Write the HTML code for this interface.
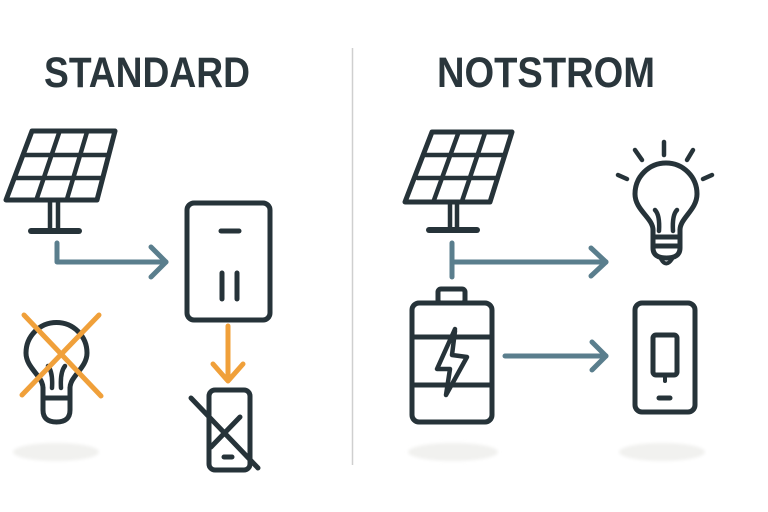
<!DOCTYPE html>
<html>
<head>
<meta charset="utf-8">
<style>
  html,body{margin:0;padding:0;background:#ffffff;}
  svg{display:block;}
</style>
</head>
<body>
<svg width="768" height="512" viewBox="0 0 768 512" xmlns="http://www.w3.org/2000/svg">
  <defs>
    <filter id="soft" x="-20%" y="-50%" width="140%" height="200%">
      <feGaussianBlur stdDeviation="1.5"/>
    </filter>
  </defs>
  <rect width="768" height="512" fill="#ffffff"/>

  <!-- Titles -->
  <text x="44" y="87" font-family="'Liberation Sans', sans-serif" font-weight="bold" font-size="43" fill="#2a363c" textLength="206" lengthAdjust="spacingAndGlyphs">STANDARD</text>
  <text x="437" y="87" font-family="'Liberation Sans', sans-serif" font-weight="bold" font-size="43" fill="#2a363c" textLength="218" lengthAdjust="spacingAndGlyphs">NOTSTROM</text>

  <!-- Divider -->
  <line x1="352.5" y1="48" x2="352.5" y2="465" stroke="#cfcfcf" stroke-width="1.5"/>

  <!-- Shadows -->
  <g filter="url(#soft)" fill="#f1f1ef">
    <ellipse cx="56" cy="452" rx="43" ry="9"/>
    <ellipse cx="453" cy="452" rx="45" ry="9"/>
    <ellipse cx="662" cy="452" rx="43" ry="9"/>
  </g>

  <g fill="none" stroke="#263339" stroke-width="5" stroke-linecap="round" stroke-linejoin="round">
    <!-- Left solar panel -->
    <path d="M32,131 L115,131 L97,200 L6,200 Z"/>
    <line x1="23" y1="155" x2="108.7" y2="155" stroke-width="4.5"/>
    <line x1="14.3" y1="178" x2="102.7" y2="178" stroke-width="4.5"/>
    <line x1="59.7" y1="131" x2="36.3" y2="200" stroke-width="4.5"/>
    <line x1="87.3" y1="131" x2="66.7" y2="200" stroke-width="4.5"/>
    <line x1="50" y1="200" x2="50" y2="231" stroke-width="4.5"/>
    <line x1="58" y1="200" x2="58" y2="231" stroke-width="4.5"/>
    <line x1="31" y1="231" x2="79" y2="231" stroke-width="6"/>

    <!-- Inverter box -->
    <rect x="187" y="203" width="83" height="117" rx="7"/>
    <line x1="221" y1="231" x2="239" y2="231"/>
    <line x1="222" y1="273" x2="222" y2="299"/>
    <line x1="237" y1="273" x2="237" y2="299"/>

    <!-- Left bulb -->
    <path d="M43,388 C43,376 26,368 26,353 A30.5,30.5 0 1 1 87,353 C87,368 70,376 70,388"/>
    <path d="M43,388 L43,410 Q43,422 56.5,422 Q70,422 70,410 L70,388"/>
    <line x1="43" y1="398" x2="70" y2="398"/>
    <path d="M48,366 Q53,372 52,388" stroke-width="4.5"/>
    <path d="M65,366 Q60,372 61,388" stroke-width="4.5"/>

    <!-- Left phone crossed -->
    <rect x="209" y="390" width="41" height="80" rx="6"/>
    <line x1="224" y1="457" x2="232" y2="457"/>
    <line x1="191" y1="398" x2="258" y2="468"/>
    <line x1="240" y1="417" x2="211" y2="447"/>

    <!-- Right solar panel -->
    <path d="M432,132 L512,132 L490,202 L405,202 Z"/>
    <line x1="424.8" y1="155" x2="504.8" y2="155" stroke-width="4.5"/>
    <line x1="417.7" y1="178" x2="497.5" y2="178" stroke-width="4.5"/>
    <line x1="458.7" y1="132" x2="433.3" y2="202" stroke-width="4.5"/>
    <line x1="485.3" y1="132" x2="461.7" y2="202" stroke-width="4.5"/>
    <line x1="450" y1="202" x2="450" y2="230" stroke-width="4.5"/>
    <line x1="457" y1="202" x2="457" y2="230" stroke-width="4.5"/>
    <line x1="429" y1="230" x2="477" y2="230" stroke-width="6"/>

    <!-- Right bulb -->
    <path d="M653,230 C653,218 635,210 635,194 A31,31 0 1 1 697,194 C697,210 680,218 680,230"/>
    <path d="M653,230 L653,248 Q653,258 666.5,258 Q680,258 680,248 L680,230"/>
    <line x1="653" y1="237" x2="680" y2="237"/>
    <line x1="653" y1="246" x2="680" y2="246"/>
    <path d="M661,259 Q666,268 672,259" stroke-width="4"/>
    <path d="M655,210 Q660,215 659,231" stroke-width="4.5"/>
    <path d="M677,210 Q672,215 673,231" stroke-width="4.5"/>
    <line x1="664" y1="142" x2="664" y2="155" stroke-width="4.5"/>
    <line x1="635" y1="150" x2="642" y2="160" stroke-width="4.5"/>
    <line x1="693" y1="150" x2="687" y2="160" stroke-width="4.5"/>
    <line x1="618" y1="175" x2="627" y2="179" stroke-width="4.5"/>
    <line x1="712" y1="175" x2="703" y2="179" stroke-width="4.5"/>

    <!-- Battery -->
    <rect x="438" y="289" width="27" height="14" rx="3"/>
    <rect x="412" y="303" width="80" height="119" rx="7"/>
    <line x1="412" y1="337" x2="492" y2="337"/>
    <line x1="412" y1="385" x2="492" y2="385"/>
    <path d="M455,329 L437,369 L450,369 L446,395 L467,357 L452,355 L455,331" stroke-width="4.5"/>

    <!-- Right phone -->
    <rect x="635" y="303" width="60" height="109" rx="7"/>
    <rect x="653" y="335" width="24" height="40" rx="3"/>
    <line x1="665" y1="376" x2="665" y2="381" stroke-width="4"/>
    <line x1="659" y1="398" x2="670" y2="398"/>
  </g>

  <!-- Blue arrows -->
  <g fill="none" stroke="#5a7e8d" stroke-width="5" stroke-linecap="round" stroke-linejoin="round">
    <path d="M57,243 L57,262 L166,262"/>
    <path d="M151,247 L166,262 L151,277"/>

    <line x1="452" y1="243" x2="452" y2="277"/>
    <line x1="452" y1="262" x2="606" y2="262"/>
    <path d="M591,248 L606,262 L591,276"/>

    <line x1="505" y1="356" x2="606" y2="356"/>
    <path d="M592,342 L606,356 L592,370"/>
  </g>

  <!-- Orange elements -->
  <g fill="none" stroke="#f0a03a" stroke-width="5" stroke-linecap="round" stroke-linejoin="round">
    <line x1="228" y1="326" x2="228" y2="380"/>
    <path d="M213,364 L228,381 L243,364"/>
    <line x1="24" y1="315" x2="101" y2="396"/>
    <line x1="99" y1="315" x2="22" y2="395"/>
  </g>
</svg>
</body>
</html>
